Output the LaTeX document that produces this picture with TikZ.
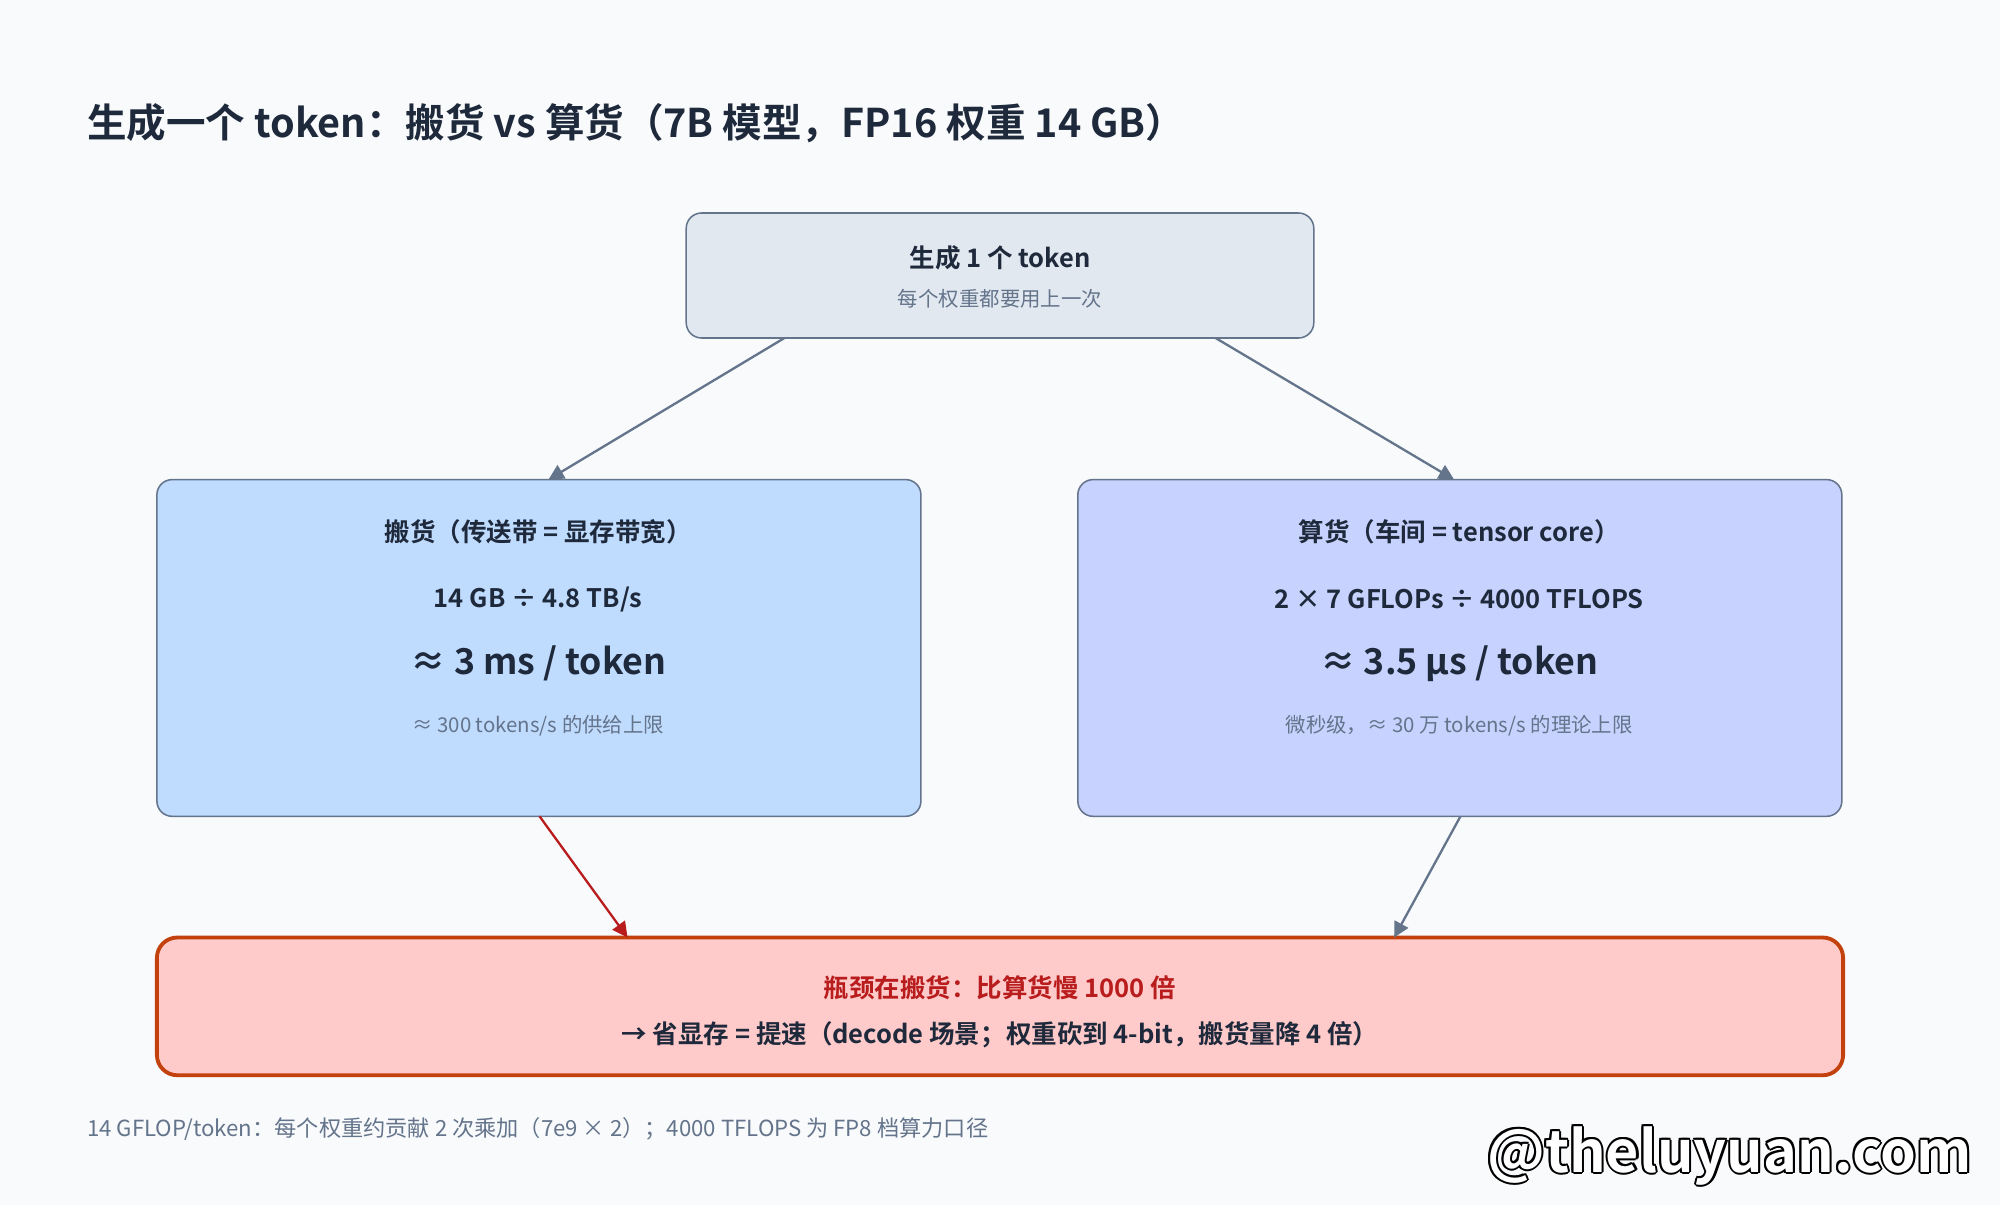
\documentclass[tikz,border=0pt]{standalone}
\usepackage{fontspec}
\setmainfont{Noto Sans CJK SC}
\newfontfamily\bd{Noto Sans CJK SC Bold}
\usetikzlibrary{arrows.meta}
\definecolor{bg}{HTML}{F8FAFC}
\definecolor{ink}{HTML}{1E293B}
\definecolor{mut}{HTML}{64748B}
\definecolor{edge}{HTML}{64748B}
\definecolor{redc}{HTML}{B91C1C}
\definecolor{c1}{HTML}{E2E8F0}\definecolor{c2}{HTML}{BFDBFE}\definecolor{c3}{HTML}{C7D2FE}\definecolor{c4}{HTML}{FECACA}\definecolor{c5}{HTML}{C2410C}
\begin{document}
\begin{tikzpicture}[x=0.5pt,y=-0.5pt,
 box/.style={draw=edge,line width=0.6pt,rounded corners=6pt},
 arr/.style={draw=edge,line width=0.9pt,-{Triangle[length=6pt,width=6pt]}},
 t1/.style={font=\bd\fontsize{10}{12}\selectfont,text=ink},
 t2/.style={font=\fontsize{8}{10}\selectfont,text=mut},
 t3/.style={font=\bd\fontsize{14}{16}\selectfont,text=ink}]
\fill[bg] (0,0) rectangle (1568,945);
\useasboundingbox (0,0) rectangle (1568,945);
\node[anchor=west,inner sep=0pt,font=\bd\fontsize{15.5}{18}\selectfont,text=ink] (title) at (68,97) {生成一个 token：搬货 vs 算货（7B 模型，FP16 权重 14 GB）};
\draw[box,fill=c1] (538,167) rectangle (1030,265);
\node[t1] (top) at (784,202) {生成 1 个 token};
\node[t2] (tops) at (784,234) {每个权重都要用上一次};
\coordinate (tl) at (615,265); \coordinate (tr) at (953,265);
\draw[box,fill=c2] (123,376) rectangle (722,640);
\node[t1] (l1) at (422,417) {搬货（传送带 = 显存带宽）};
\node[t1] (l2) at (422,470) {14 GB ÷ 4.8 TB/s};
\node[t3] (l3) at (422,520) {≈ 3 ms / token};
\node[t2] (l4) at (422,569) {≈ 300 tokens/s 的供给上限};
\coordinate (lt) at (430,376); \coordinate (lb) at (423,640);
\draw[box,fill=c3] (845,376) rectangle (1444,640);
\node[t1] (r1) at (1144,417) {算货（车间 = tensor core）};
\node[t1] (r2) at (1144,470) {2 × 7 GFLOPs ÷ 4000 TFLOPS};
\node[t3] (r3) at (1144,520) {≈ 3.5 µs / token};
\node[t2] (r4) at (1144,569) {微秒级，≈ 30 万 tokens/s 的理论上限};
\coordinate (rt) at (1140,376); \coordinate (rb) at (1145,640);
\draw[draw=c5,fill=c4,line width=1.5pt,rounded corners=8pt] (123,735) rectangle (1445,843);
\node[t1,text=redc] (b1) at (784,774) {瓶颈在搬货：比算货慢 1000 倍};
\node[t1] (b2) at (784,811) {→ 省显存 = 提速（decode 场景；权重砍到 4-bit，搬货量降 4 倍）};
\coordinate (bl) at (492,735); \coordinate (br) at (1093,735);
\draw[arr] (tl) -- (lt);
\draw[arr] (tr) -- (rt);
\draw[arr,draw=redc] (lb) -- (bl);
\draw[arr] (rb) -- (br);
\node[anchor=west,inner sep=0pt,t2,font=\fontsize{8.7}{10}\selectfont] (foot) at (68,885) {14 GFLOP/token：每个权重约贡献 2 次乘加（7e9 × 2）；4000 TFLOPS 为 FP8 档算力口径};
\foreach \dx/\dy in {-1.6/0,1.6/0,0/-1.6,0/1.6,-1.2/-1.2,1.2/1.2,-1.2/1.2,1.2/-1.2}
 \node[font=\bd\fontsize{22.5}{26}\selectfont,text=black] at (1356+\dx,906+\dy) {@theluyuan.com};
\node[font=\bd\fontsize{22.5}{26}\selectfont,text=white] (wm) at (1356,906) {@theluyuan.com};
\end{tikzpicture}
\end{document}
